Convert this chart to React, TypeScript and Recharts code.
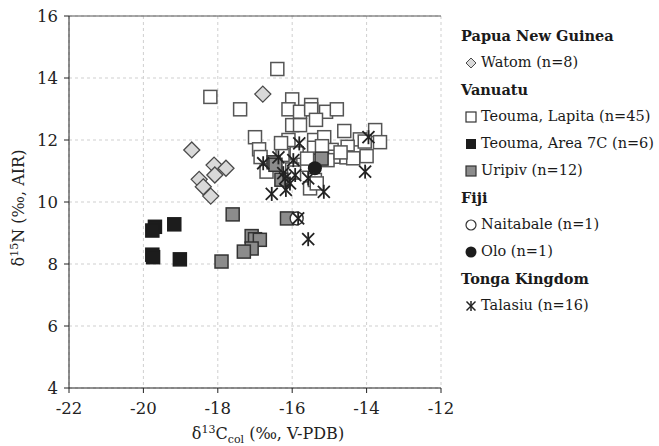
import { ScatterChart, Scatter, XAxis, YAxis, CartesianGrid, ReferenceLine } from "recharts";

const FONT = "'DejaVu Serif', serif";

const xTicks = [-22, -20, -18, -16, -14, -12];
const yTicks = [4, 6, 8, 10, 12, 14, 16];

// [δ13C, δ15N] per group
const watom = [
  [-18.7, 11.68], [-18.1, 11.19], [-17.78, 11.09], [-18.08, 10.87],
  [-18.5, 10.73], [-18.39, 10.49], [-18.19, 10.19], [-16.79, 13.48],
];
const teoumaLapita = [
  [-18.2, 13.39], [-17.4, 12.99], [-16.4, 14.29], [-16.0, 13.31], [-16.1, 12.99],
  [-15.79, 12.91], [-15.49, 13.13], [-15.49, 12.99], [-15.09, 12.91], [-14.8, 12.99],
  [-16.0, 12.48], [-15.79, 12.48], [-15.36, 12.65], [-17.0, 12.09], [-16.1, 12.0],
  [-15.41, 12.0], [-15.14, 12.09], [-14.6, 12.29], [-14.18, 12.02], [-13.77, 12.32],
  [-13.64, 11.93], [-16.89, 11.7], [-15.41, 11.75], [-14.94, 11.68], [-14.89, 11.46],
  [-14.51, 11.78], [-14.54, 11.44], [-14.36, 11.41], [-14.0, 11.48], [-16.69, 10.98],
  [-15.52, 10.44], [-15.39, 10.71], [-16.26, 11.52], [-15.88, 11.57], [-16.85, 11.45],
  [-15.34, 10.6], [-15.05, 11.35], [-15.7, 11.2], [-16.3, 11.9], [-15.2, 11.8],
  [-14.7, 11.6], [-15.6, 11.4], [-16.0, 11.05], [-15.95, 10.95], [-14.05, 11.95],
];
const teoumaArea7C = [
  [-19.69, 9.2], [-19.76, 9.08], [-19.17, 9.28], [-19.76, 8.3], [-19.74, 8.22], [-19.02, 8.15],
];
const uripiv = [
  [-17.6, 9.6], [-17.09, 8.9], [-17.0, 8.8], [-16.87, 8.78], [-17.09, 8.5], [-17.3, 8.4],
  [-17.9, 8.08], [-16.14, 9.47], [-16.5, 11.28], [-16.29, 10.72], [-15.21, 11.4], [-16.45, 11.2],
];
const naitabale = [[-15.88, 9.47]];
const olo = [[-15.39, 11.09]];
const talasiu = [
  [-15.81, 11.89], [-13.95, 12.09], [-16.37, 11.44], [-16.78, 11.25], [-15.97, 11.35],
  [-15.92, 10.87], [-16.19, 10.76], [-15.57, 10.76], [-16.55, 10.26], [-16.17, 10.39],
  [-16.06, 10.6], [-15.15, 10.33], [-14.04, 10.98], [-15.84, 9.47], [-15.57, 8.8], [-16.24, 10.93],
];

const toPts = (arr: number[][]) => arr.map(([x, y]) => ({ x, y }));

const diamond = (cx: number, cy: number, r: number) =>
  `${cx},${cy - r} ${cx + r},${cy} ${cx},${cy + r} ${cx - r},${cy}`;

const DiamondShape = ({ cx, cy }: any) => (
  <polygon points={diamond(cx, cy, 8)} fill="#d9d9d9" stroke="#4a4a4a" strokeWidth={1.3} />
);
const makeSquare = (fill: string, stroke: string) => ({ cx, cy }: any) => (
  <rect x={cx - 6.5} y={cy - 6.5} width={13} height={13} fill={fill} stroke={stroke} strokeWidth={1.5} />
);
const OpenSquare = makeSquare("#ffffff", "#555555");
const BlackSquare = makeSquare("#1c1c1c", "#1c1c1c");
const GraySquare = makeSquare("#8c8c8c", "#333333");
const OpenCircle = ({ cx, cy }: any) => (
  <circle cx={cx} cy={cy} r={6.5} fill="#ffffff" stroke="#333333" strokeWidth={1.4} />
);
const BlackCircle = ({ cx, cy }: any) => <circle cx={cx} cy={cy} r={7} fill="#1c1c1c" />;
const Star = ({ cx, cy }: any) => (
  <g stroke="#222222" strokeWidth={1.8}>
    <line x1={cx} y1={cy - 7} x2={cx} y2={cy + 7} />
    <line x1={cx - 6} y1={cy - 6} x2={cx + 6} y2={cy + 6} />
    <line x1={cx + 6} y1={cy - 6} x2={cx - 6} y2={cy + 6} />
  </g>
);

const XTitle = ({ viewBox }: any) => {
  const x = viewBox ? viewBox.x + viewBox.width / 2 + 13 : 268;
  return (
    <text x={x} y={439} textAnchor="middle" fontFamily={FONT} fontSize={16} fill="#222">
      δ<tspan dy={-6} fontSize={11}>13</tspan>
      <tspan dy={6}>C</tspan>
      <tspan dy={4} fontSize={11}>col</tspan>
      <tspan dy={-4}> (‰, V-PDB)</tspan>
    </text>
  );
};

const YTitle = () => (
  <text
    x={0}
    y={0}
    transform="translate(24, 208) rotate(-90)"
    textAnchor="middle"
    fontFamily={FONT}
    fontSize={16}
    fill="#222"
  >
    δ<tspan dy={-6} fontSize={11}>15</tspan>
    <tspan dy={6}>N (‰, AIR)</tspan>
  </text>
);

const legendRows: { label: string; head?: boolean; icon?: any }[] = [
  { label: "Papua New Guinea", head: true },
  { label: "Watom (n=8)", icon: <polygon points={diamond(6, 7, 5)} fill="#d9d9d9" stroke="#4a4a4a" strokeWidth={1} /> },
  { label: "Vanuatu", head: true },
  { label: "Teouma, Lapita (n=45)", icon: <rect x={1} y={2} width={10} height={10} fill="#fff" stroke="#333" strokeWidth={1.2} /> },
  { label: "Teouma, Area 7C (n=6)", icon: <rect x={1} y={2} width={10} height={10} fill="#1c1c1c" /> },
  { label: "Uripiv (n=12)", icon: <rect x={1} y={2} width={10} height={10} fill="#8c8c8c" stroke="#333" strokeWidth={1.2} /> },
  { label: "Fiji", head: true },
  { label: "Naitabale (n=1)", icon: <circle cx={6} cy={7} r={5} fill="#fff" stroke="#333" strokeWidth={1.2} /> },
  { label: "Olo (n=1)", icon: <circle cx={6} cy={7} r={5.5} fill="#1c1c1c" /> },
  { label: "Tonga Kingdom", head: true },
  {
    label: "Talasiu (n=16)",
    icon: (
      <g stroke="#222" strokeWidth={1.5}>
        <line x1={6} y1={2} x2={6} y2={12} />
        <line x1={1.5} y1={2.5} x2={10.5} y2={11.5} />
        <line x1={10.5} y1={2.5} x2={1.5} y2={11.5} />
      </g>
    ),
  },
];

export default function App() {
  return (
    <div style={{ position: "absolute", left: 0, top: 0, width: 659, height: 446, background: "#fff" }}>
      <ScatterChart width={659} height={446} margin={{ top: 16, right: 218, bottom: 0, left: 0 }}>
        <CartesianGrid strokeDasharray="3 3" stroke="#cfcfcf" />
        <XAxis
          type="number"
          dataKey="x"
          domain={[-22, -12]}
          ticks={xTicks}
          height={58}
          tickSize={5}
          tickMargin={9}
          stroke="#222"
          tick={{ fontFamily: FONT, fontSize: 16.5, fill: "#222" }}
          label={<XTitle />}
        />
        <YAxis
          type="number"
          dataKey="y"
          domain={[4, 16]}
          ticks={yTicks}
          width={69}
          tickSize={5}
          tickMargin={6}
          stroke="#222"
          tick={{ fontFamily: FONT, fontSize: 16.5, fill: "#222" }}
          label={<YTitle />}
        />
        <ReferenceLine y={16} stroke="#555" strokeWidth={1} />
        <Scatter name="Watom" data={toPts(watom)} shape={DiamondShape} isAnimationActive={false} />
        <Scatter name="Teouma, Lapita" data={toPts(teoumaLapita)} shape={OpenSquare} isAnimationActive={false} />
        <Scatter name="Teouma, Area 7C" data={toPts(teoumaArea7C)} shape={BlackSquare} isAnimationActive={false} />
        <Scatter name="Uripiv" data={toPts(uripiv)} shape={GraySquare} isAnimationActive={false} />
        <Scatter name="Naitabale" data={toPts(naitabale)} shape={OpenCircle} isAnimationActive={false} />
        <Scatter name="Olo" data={toPts(olo)} shape={BlackCircle} isAnimationActive={false} />
        <Scatter name="Talasiu" data={toPts(talasiu)} shape={Star} isAnimationActive={false} />
      </ScatterChart>
      <div style={{ position: "absolute", left: 461, top: 22, fontFamily: FONT, fontSize: 14.5, color: "#1a1a1a" }}>
        {legendRows.map((r) => (
          <div key={r.label} style={{ height: 27, lineHeight: "27px", whiteSpace: "nowrap", display: "flex", alignItems: "center" }}>
            {r.head ? (
              <span style={{ fontWeight: "bold" }}>{r.label}</span>
            ) : (
              <>
                <svg width={14} height={14} style={{ marginLeft: 4, marginRight: 2 }}>
                  {r.icon}
                </svg>
                <span>{r.label}</span>
              </>
            )}
          </div>
        ))}
      </div>
    </div>
  );
}
